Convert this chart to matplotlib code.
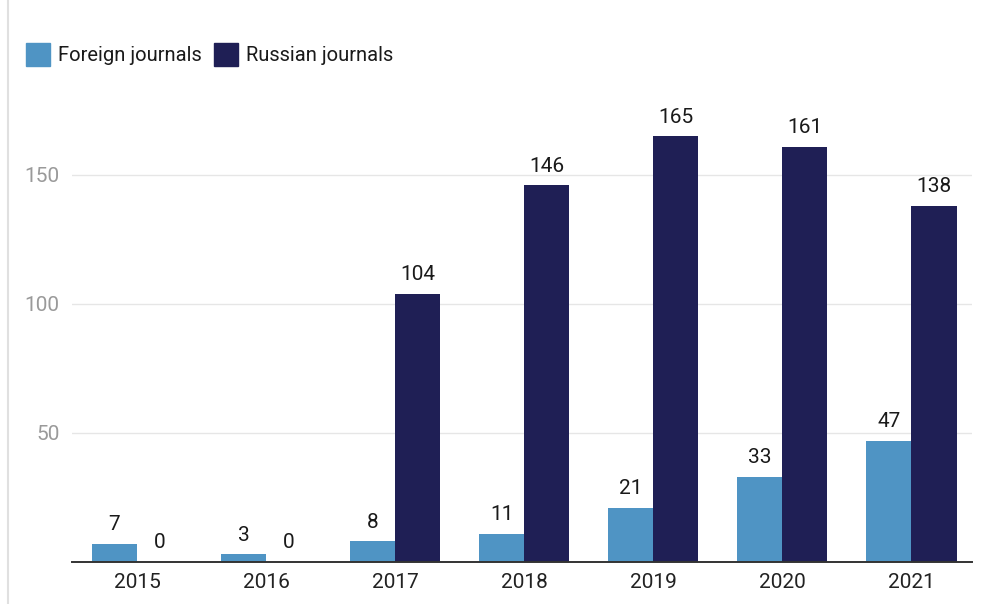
import numpy as np
import matplotlib
import matplotlib.pyplot as plt
from matplotlib.patches import Patch
from matplotlib.lines import Line2D

matplotlib.rcParams['font.family'] = ['Roboto', 'DejaVu Sans']

years   = ['2015', '2016', '2017', '2018', '2019', '2020', '2021']
foreign = [7, 3, 8, 11, 21, 33, 47]
russian = [0, 0, 104, 146, 165, 161, 138]

c_foreign = '#4f94c4'
c_russian = '#1f1f55'
fs = 15

fig = plt.figure(figsize=(9.84, 6.04), dpi=100)
ax = fig.add_axes([72 / 984, 1 - 562 / 604, (972 - 72) / 984, (562 - 95) / 604])

x = np.arange(len(years))
w = 0.35
b1 = ax.bar(x - w / 2, foreign, w, color=c_foreign, zorder=3)
b2 = ax.bar(x + w / 2, russian, w, color=c_russian, zorder=3)

for bars, vals in [(b1, foreign), (b2, russian)]:
    for r, v in zip(bars, vals):
        ax.annotate(str(v), (r.get_x() + r.get_width() / 2, v),
                    xytext=(0, 7), textcoords='offset points',
                    ha='center', va='bottom', fontsize=fs, color='#1a1a1a')

ax.set_xlim(-0.504, 6.47)
ax.set_ylim(0, 181)
ax.set_yticks([50, 100, 150])
ax.set_xticks(x)
ax.set_xticklabels(years)
ax.tick_params(axis='y', length=0, pad=9, labelsize=fs, labelcolor='#9a9a9a')
ax.tick_params(axis='x', length=0, pad=8, labelsize=fs, labelcolor='#222222')
ax.grid(axis='y', color='#e6e6e6', linewidth=1, zorder=0)
for s in ['top', 'right', 'left']:
    ax.spines[s].set_visible(False)
ax.spines['bottom'].set_color('#333333')
ax.spines['bottom'].set_linewidth(1.4)
ax.spines['bottom'].set_zorder(4)

# thin frame line along the left edge
fig.add_artist(Line2D([8 / 984, 8 / 984], [0, 1], color='#e0e0e0', linewidth=1.5))

handles = [Patch(color=c_foreign, label='Foreign journals'),
           Patch(color=c_russian, label='Russian journals')]
fig.legend(handles=handles, loc='upper left', bbox_to_anchor=(8 / 984, 1 - 25 / 604),
           ncol=2, frameon=False, fontsize=14.5, handlelength=1.2, handleheight=1.35,
           handletextpad=0.38, columnspacing=0.6, labelcolor='#1a1a1a')

fig.savefig('out.png', dpi=100)
